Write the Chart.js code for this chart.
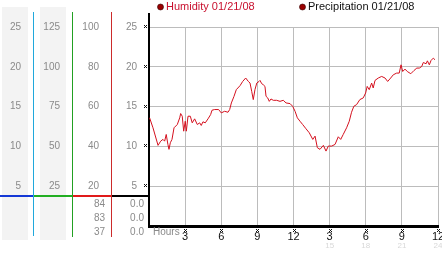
<!DOCTYPE html>
<html><head><meta charset="utf-8">
<script src="https://cdn.jsdelivr.net/npm/chart.js@4"></script>
<style>html,body{margin:0;padding:0;background:#fff;overflow:hidden}</style>
</head><body>
<canvas id="c" width="442" height="253"></canvas>
<script>
// ---- data ----
const hours = [0.05,0.33,0.75,0.97,1.16,1.30,1.43,1.57,1.66,1.77,
  1.91,2.08,2.35,2.55,2.63,2.76,2.88,3.01,3.10,3.24,
  3.43,3.59,3.79,4.01,4.21,4.34,4.48,4.67,4.90,5.12,
  5.23,5.45,5.78,6.00,6.28,6.56,6.70,6.84,7.06,7.25,
  7.56,7.78,8.03,8.25,8.39,8.53,8.66,8.80,8.95,9.14,
  9.22,9.36,9.49,9.63,9.72,9.86,9.99,10.13,10.32,10.60,
  10.88,11.15,11.38,11.71,11.93,12.13,12.32,12.54,12.76,13.04,
  13.31,13.60,13.79,13.98,14.20,14.48,14.70,14.89,15.17,15.45,
  15.72,15.92,16.13,16.41,16.63,16.82,17.01,17.24,17.51,17.79,
  17.99,18.12,18.29,18.49,18.62,18.77,19.04,19.32,19.60,19.82,
  20.07,20.29,20.57,20.78,20.93,21.07,21.26,21.45,21.74,22.01,
  22.24,22.45,22.65,22.78,23.01,23.12,23.28,23.42,23.61,23.75];
const humidity = [13.59,12.34,10.13,10.66,10.88,10.66,11.5,10.25,9.63,10.46,
  10.88,12.34,12.75,13.59,14.13,13.79,11.91,13.16,11.91,13.79,
  13.79,12.96,13.46,12.75,12.96,12.63,13.09,12.96,13.46,14.0,
  14.54,14.63,14.63,14.21,14.41,14.29,14.63,15.46,16.29,17.13,
  17.63,18.16,18.59,18.16,17.96,16.91,15.88,17.13,17.96,18.16,
  18.29,17.88,17.75,17.54,16.29,16.09,15.66,15.96,15.79,15.79,
  15.66,15.79,15.46,15.38,15.04,14.41,13.59,13.16,12.75,12.21,
  11.71,10.88,11.29,9.84,9.63,10.13,9.41,10.04,10.04,10.25,
  11.21,10.88,11.5,12.34,13.16,14.29,15.04,15.25,15.88,16.09,
  16.71,17.54,17.13,17.96,17.34,18.29,18.59,18.79,18.59,18.16,
  18.59,19.0,19.21,19.21,20.25,19.41,19.71,19.41,19.13,19.54,
  19.84,19.84,20.04,20.54,20.38,20.75,20.25,20.79,21.09,20.88];
const precipitation = [];
const seriesLabels = ['Humidity 01/21/08', 'Precipitation 01/21/08'];
const colALabels = ['5','10','15','20','25'];
const colBLabels = ['25','50','75','100','125'];
const colCLabels = ['20','40','60','80','100'];
const colDLabels = ['5','10','15','20','25'];
const hourLabels = ['3','6','9','12','3','6','9','12'];
const hourLabels24 = ['','','','','15','18','21','24'];
const humidityStats = ['84','83','37'];
const precipStats = ['0.0','0.0','0.0'];

// ---- helpers ----
const FONT = "'Liberation Sans', Arial, sans-serif";
const fixedWidth = w => s => { s.width = w; s.paddingTop = 0; s.paddingBottom = 0; };
const fixedHeight = h => s => { s.height = h; s.paddingLeft = 0; s.paddingRight = 0; };
const labelFrom = (arr, step) => v => (v > 0 && arr[Math.round(v / step) - 1]) || '';
const gridCol = c => (c.tick && c.tick.value === 0) ? 'rgba(0,0,0,0)' : '#bcbcbc';

function leftAxis(weight, width, labels, opts) {
  return Object.assign({
    type: 'linear', position: 'left', weight, min: 0, max: 25,
    afterFit: fixedWidth(width),
    ticks: { stepSize: 5, padding: 12, color: '#8a8a8a', font: { family: FONT, size: 10 }, callback: labelFrom(labels, 5) },
    grid: { display: false, drawTicks: false },
    border: { display: false }
  }, opts || {});
}

function mark(ctx, cx, cy) {
  ctx.fillRect(cx - 1, cy - 1, 1, 1); ctx.fillRect(cx + 1, cy - 1, 1, 1);
  ctx.fillRect(cx, cy, 1, 1);
  ctx.fillRect(cx - 1, cy + 1, 1, 1); ctx.fillRect(cx + 1, cy + 1, 1, 1);
}

const decor = {
  id: 'decor',
  beforeDraw(chart) {
    const { ctx, chartArea: ca, scales: s } = chart;
    ctx.save();
    ctx.fillStyle = '#f3f3f3';
    ctx.fillRect(s.yA.left + 2, ca.top - 20, s.yA.width - 7, ca.bottom - ca.top + 34);
    ctx.fillRect(s.yB.left + 7, ca.top - 20, s.yB.width - 13, ca.bottom - ca.top + 34);
    ctx.restore();
  },
  afterDraw(chart) {
    const { ctx, chartArea: ca, scales: s } = chart;
    ctx.save();
    const baseY = Math.round(s.y.getPixelForValue(5)) + 10;
    // coloured base segments
    [[s.yA, '#1438d6'], [s.yB, '#22ae22'], [s.yC, '#e01a1a'], [s.y, '#000']].forEach(([sc, col]) => {
      ctx.fillStyle = col;
      ctx.fillRect(sc.left, baseY - 1, sc.right - sc.left, 2);
    });
    // vertical separators
    [[s.yA, '#20a8dc', 10], [s.yB, '#22a022', 11], [s.yC, '#cc2b2b', 11]].forEach(([sc, col, ext]) => {
      ctx.fillStyle = col;
      ctx.fillRect(Math.round(sc.right), ca.top - 15, 1, ca.bottom - ca.top + 15 + ext);
    });
    ctx.fillStyle = '#000';
    ctx.fillRect(Math.round(ca.left) - 1, ca.top - 14, 2, 15);
    // tick marks
    ctx.fillStyle = '#111';
    s.y.ticks.forEach(t => { if (t.value > 0) mark(ctx, Math.round(ca.left) - 4, Math.round(s.y.getPixelForValue(t.value)) - 1); });
    s.x.ticks.forEach(t => { if (t.value > 0) mark(ctx, Math.round(s.x.getPixelForValue(t.value)), Math.round(ca.bottom) + 4); });
    // Hours label
    ctx.font = '10px ' + FONT;
    ctx.fillStyle = '#8a8a8a';
    ctx.textBaseline = 'middle';
    ctx.textAlign = 'left';
    ctx.fillText('Hours', ca.left + 4, ca.bottom + 6);
    // stats under the axes
    ctx.textAlign = 'right';
    humidityStats.forEach((t, i) => ctx.fillText(t, s.yC.right - 6, baseY + 8 + i * 14));
    precipStats.forEach((t, i) => ctx.fillText(t, s.y.right - 5, baseY + 8 + i * 14));
    // legend
    ctx.font = '11px ' + FONT;
    ctx.textAlign = 'left';
    const lx = [ca.left + 11.5, ca.left + 153.5];
    chart.data.datasets.forEach((d, i) => {
      ctx.beginPath();
      ctx.arc(lx[i], 7, 3, 0, Math.PI * 2);
      ctx.fillStyle = '#9a0000';
      ctx.fill();
      ctx.lineWidth = 0.6;
      ctx.strokeStyle = '#300';
      ctx.stroke();
      ctx.fillStyle = d.legendTextColor;
      ctx.fillText(d.label, lx[i] + 5.5, 7);
    });
    ctx.restore();
  }
};

new Chart(document.getElementById('c'), {
  type: 'line',
  data: {
    datasets: [
      { label: seriesLabels[0], data: hours.map((h, i) => ({ x: h, y: humidity[i] })),
        borderColor: '#d4101e', borderWidth: 1, pointRadius: 0, tension: 0, fill: false,
        legendTextColor: '#c8102e', xAxisID: 'x', yAxisID: 'y' },
      { label: seriesLabels[1], data: precipitation,
        borderColor: '#000', borderWidth: 1, pointRadius: 0, fill: false,
        legendTextColor: '#111', xAxisID: 'x', yAxisID: 'y' }
    ]
  },
  options: {
    responsive: false, animation: false, devicePixelRatio: 1,
    layout: { padding: { top: 27, right: 4, left: 0, bottom: 0 } },
    plugins: { legend: { display: false }, tooltip: { enabled: false } },
    scales: {
      x: { type: 'linear', position: 'bottom', weight: 0, min: 0, max: 24,
        afterFit: fixedHeight(15),
        ticks: { stepSize: 3, padding: 4, autoSkip: false, maxRotation: 0, color: '#111',
          font: { family: FONT, size: 11 }, callback: labelFrom(hourLabels, 3) },
        grid: { color: gridCol, drawTicks: false },
        border: { color: '#000', width: 3 } },
      x2: { type: 'linear', position: 'bottom', weight: 1, min: 0, max: 24,
        afterFit: fixedHeight(12),
        ticks: { stepSize: 3, padding: 0, autoSkip: false, maxRotation: 0, color: '#d8d8d8',
          font: { family: FONT, size: 8 }, callback: labelFrom(hourLabels24, 3) },
        grid: { display: false, drawTicks: false }, border: { display: false } },
      y: leftAxis(0, 38, colDLabels, {
        grid: { color: gridCol, drawTicks: false },
        border: { display: true, color: '#000', width: 2 } }),
      yC: leftAxis(1, 39, colCLabels),
      yB: leftAxis(2, 39, colBLabels),
      yA: leftAxis(3, 33, colALabels)
    }
  },
  plugins: [decor]
});
</script>
</body></html>
